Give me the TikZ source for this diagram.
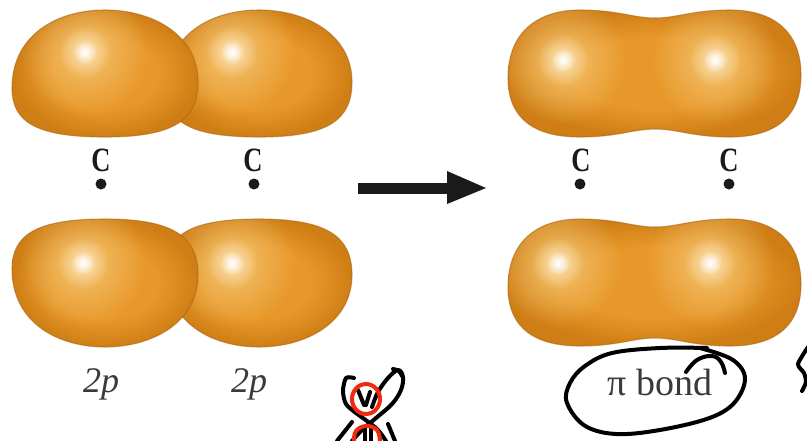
\documentclass[tikz,border=0pt]{standalone}
\usepackage{fontspec}
\setmainfont{Liberation Serif}
\usetikzlibrary{fadings}

\definecolor{orbMid}{HTML}{E8982A}
\definecolor{orbEdge}{HTML}{CF7E15}
\definecolor{orbLight}{HTML}{F4C470}
\definecolor{orbPale}{HTML}{FBE3B6}
\definecolor{ink}{HTML}{1A1A1A}
\definecolor{labelgray}{HTML}{3A3A3A}
\definecolor{penred}{HTML}{F02A10}

% base colour of every orbital: flat orange that darkens towards the rim
\pgfdeclareradialshading{orbbase}{\pgfpointorigin}{%
  color(0bp)=(orbMid); color(14bp)=(orbMid); color(25bp)=(orbEdge); color(50bp)=(orbEdge)}
% soft radial fade used for the shiny highlights
\tikzfading[name=softglow, inner color=transparent!0, outer color=transparent!100]

\tikzset{
  domeup/.style={insert path={(0,78) .. controls (0,25) and (45,0) .. (93,0)
      .. controls (141,0) and (186,25) .. (186,72)
      .. controls (186,110) and (162,127) .. (93,127)
      .. controls (24,127) and (0,112) .. cycle}},
  domedown/.style={insert path={(0,50) .. controls (0,103) and (45,128) .. (93,128)
      .. controls (141,128) and (186,103) .. (186,56)
      .. controls (186,18) and (162,0) .. (93,0)
      .. controls (24,0) and (0,16) .. cycle}},
  peanut/.style={insert path={(0,68) .. controls (0,22) and (30,0) .. (72,0)
      .. controls (110,0) and (125,8) .. (147,8)
      .. controls (169,8) and (185,0) .. (222,0)
      .. controls (266,0) and (293,22) .. (293,65)
      .. controls (293,108) and (266,127) .. (222,127)
      .. controls (185,127) and (169,119) .. (147,119)
      .. controls (125,119) and (110,127) .. (72,127)
      .. controls (28,127) and (0,110) .. cycle}},
  rim/.style={draw=orbEdge!80!black, draw opacity=0.55, line width=1.1pt},
  catom/.style={text=ink, inner sep=0pt,
      font=\bfseries\fontsize{34}{34}\selectfont},
  nucleus/.style={circle, fill=ink, inner sep=0pt, minimum size=11pt},
  orblabel/.style={text=labelgray, inner sep=0pt, anchor=base,
      font=\itshape\fontsize{36}{36}\selectfont},
  bondlabel/.style={text=labelgray, inner sep=0pt, anchor=base,
      font=\fontsize{38}{38}\selectfont},
  pen/.style={draw=black, line width=4pt, line cap=round, line join=round},
  redpen/.style={draw=penred, line width=4pt, line cap=round, line join=round},
}

% one shaded orbital lobe: #1 shape style, #2 origin, #3 list of highlight centres
\newcommand\orbital[3]{%
  \begin{scope}[shift={#2}]
    \shade[shading=orbbase, #1];
    \begin{scope}
      \clip[#1];
      \foreach \hl in {#3} {
        \fill[orbLight, path fading=softglow] \hl circle (64);
        \fill[orbPale, path fading=softglow] \hl circle (26);
        \fill[white, path fading=softglow] \hl circle (12);
      }
    \end{scope}
    \path[rim, #1];
  \end{scope}}

\begin{document}
\begin{tikzpicture}[x=1pt, y=-1pt]
  \useasboundingbox[fill=white] (0,0) rectangle (807,440);

  % separate 2p orbitals, the left lobe of each pair in front
  \orbital{domeup}{(166,10)}{(66,42)}
  \orbital{domeup}{(12,10)}{(73,42)}
  \orbital{domedown}{(166,219)}{(66,44)}
  \orbital{domedown}{(12,219)}{(71,44)}

  % merged pi orbital
  \orbital{peanut}{(508,10)}{(55,50),(207,50)}
  \orbital{peanut}{(508,219)}{(50,44),(202,44)}

  % carbon atoms
  \node[catom] (cL1) at (101,160) {\scalebox{0.78}[1]{C}};
  \node[catom] (cL2) at (253,160) {\scalebox{0.78}[1]{C}};
  \node[catom] (cR1) at (581,160) {\scalebox{0.78}[1]{C}};
  \node[catom] (cR2) at (729,160) {\scalebox{0.78}[1]{C}};
  \node[nucleus] (nL1) at (101,184) {};
  \node[nucleus] (nL2) at (254,184) {};
  \node[nucleus] (nR1) at (580,184) {};
  \node[nucleus] (nR2) at (729,184) {};

  % reaction arrow
  \coordinate (arrS) at (358,188);
  \coordinate (arrB) at (447,188);
  \coordinate (arrE) at (486,188);
  \draw[ink, line width=11pt] (arrS) -- ([xshift=2pt]arrB);
  \fill[ink] (arrE) -- ([yshift=-16pt]arrB) -- ([yshift=17pt]arrB) -- cycle;

  % labels
  \node[orblabel] (p1) at (101,392) {2p};
  \node[orblabel] (p2) at (249,392) {2p};
  \node[bondlabel] (pib) at (660,395) {π bond};

  % hand-drawn marks
  \draw[pen] plot[smooth, tension=0.6] coordinates {(700,348) (733,360) (745,380)
     (730,407) (693,423) (627,434) (587,427) (567,403) (570,383) (585,366)
     (612,353) (660,348) (707,348)};
  \draw[pen] plot[smooth, tension=0.7] coordinates {(686,372) (697,360) (712,356) (721,362) (725,373)};

  \draw[pen] plot[smooth, tension=0.5] coordinates {(354,378) (346,378) (343,391)
     (346,404) (356,413) (367,421) (378,430) (386,441)};
  \draw[pen] plot[smooth, tension=0.6] coordinates {(352,441) (362,430) (376,418)
     (392,404) (401,390) (403,377) (398,370) (388,378) (378,392) (372,407)};
  \draw[pen] plot[smooth, tension=0.6] coordinates {(393,369) (399,371) (402,376)};
  \draw[pen] (337,441) -- (352,422);
  \draw[pen] (395,441) -- (388,424);
  \draw[pen] (358,390) -- (364,405);
  \draw[pen] (370,392) -- (366,405);
  \draw[pen] (365,428) -- (365,441);
  \draw[pen] (371,428) -- (371,441);
  \draw[redpen] (366,399) ellipse (14 and 15);
  \draw[redpen] plot[smooth, tension=0.7] coordinates {(354,441) (356,431) (366,426) (377,430) (380,441)};

  \draw[pen] plot[smooth, tension=0.4] coordinates {(808,347) (798,364) (804,373) (806,382) (802,391)};
\end{tikzpicture}
\end{document}
